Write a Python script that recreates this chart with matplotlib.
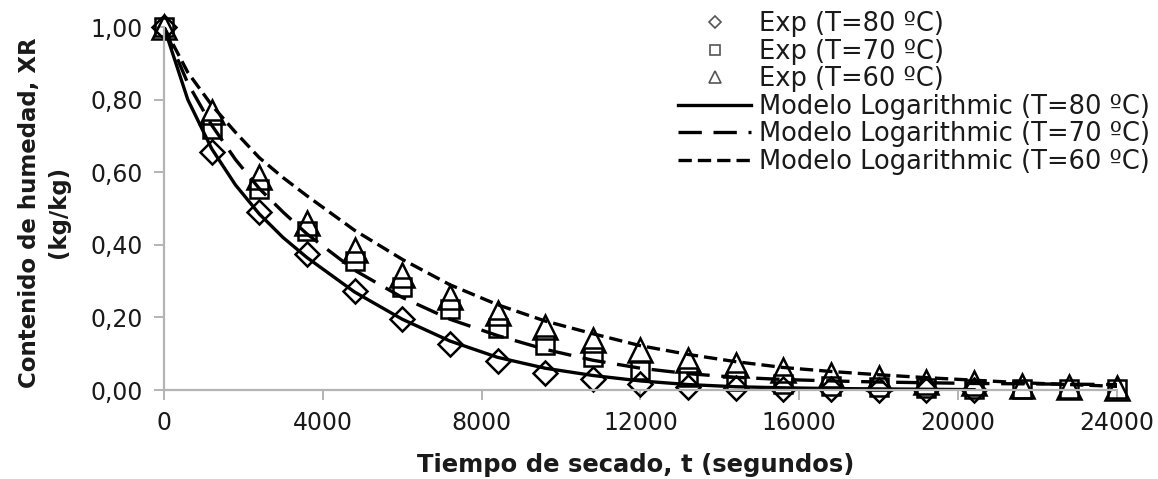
import matplotlib
matplotlib.use('Agg')

import matplotlib.pyplot as plt
from matplotlib.ticker import FuncFormatter

plt.rcParams['font.family'] = ['DejaVu Sans']

# tiempo de las medidas experimentales (s)
t_exp = [0, 1200, 2400, 3600, 4800, 6000, 7200, 8400, 9600, 10800, 12000,
         13200, 14400, 15600, 16800, 18000, 19200, 20400, 21600, 22800, 24000]

# razon de humedad experimental
xr_80 = [1.00, 0.655, 0.49, 0.375, 0.272, 0.195, 0.128, 0.08, 0.047, 0.03,
         0.016, 0.009, 0.005, 0.003, 0.002, 0.001, 0.001, 0.0]
xr_70 = [1.00, 0.72, 0.555, 0.437, 0.355, 0.284, 0.222, 0.172, 0.124, 0.091,
         0.055, 0.036, 0.025, 0.017, 0.012, 0.008, 0.005, 0.004, 0.003, 0.002, 0.002]
xr_60 = [1.00, 0.765, 0.587, 0.46, 0.386, 0.317, 0.256, 0.212, 0.174, 0.138,
         0.11, 0.083, 0.069, 0.055, 0.041, 0.033, 0.022, 0.02, 0.01, 0.008, 0.005]

# curvas del modelo Logarithmic
t_mod = [0, 600, 1200, 1800, 2400, 3000, 3600, 4800, 6000, 7200, 8400, 9600,
         10800, 12000, 13200, 14400, 15600, 16800, 18000, 19200, 20400,
         21600, 22800, 24000]
mod_80 = [1.00, 0.80, 0.665, 0.565, 0.485, 0.42, 0.365, 0.27, 0.195, 0.135,
          0.09, 0.06, 0.04, 0.025, 0.015, 0.009, 0.006, 0.004, 0.003, 0.002, 0.001]
mod_70 = [1.00, 0.845, 0.73, 0.635, 0.555, 0.49, 0.43, 0.33, 0.255, 0.195,
          0.15, 0.112, 0.082, 0.06, 0.045, 0.035, 0.029, 0.025, 0.022, 0.02,
          0.018, 0.017, 0.016, 0.015]
mod_60 = [1.00, 0.875, 0.785, 0.71, 0.64, 0.585, 0.535, 0.44, 0.36, 0.29,
          0.235, 0.19, 0.155, 0.122, 0.098, 0.078, 0.062, 0.051, 0.042, 0.034,
          0.027, 0.02, 0.015, 0.01]

x_ticks = [0, 4000, 8000, 12000, 16000, 20000, 24000]
y_ticks = [0.0, 0.2, 0.4, 0.6, 0.8, 1.0]

fig = plt.figure(figsize=(11.58, 4.79), dpi=100)
ax = fig.add_axes([0.1416, 0.1858, 0.823, 0.7578])

mk = dict(linestyle='none', fillstyle='none', color='black', markeredgewidth=1.8, clip_on=False)
ax.plot(t_exp[:len(xr_80)], xr_80, marker='D', markersize=12, label='Exp (T=80 ºC)', **mk)
ax.plot(t_exp, xr_70, marker='s', markersize=13, label='Exp (T=70 ºC)', **mk)
ax.plot(t_exp, xr_60, marker='^', markersize=17, label='Exp (T=60 ºC)', **mk)

ax.plot(t_mod[:len(mod_80)], mod_80, color='black', linewidth=2.4,
        label='Modelo Logarithmic (T=80 ºC)')
ax.plot(t_mod, mod_70, color='black', linewidth=2.4, dashes=(7, 3.5),
        label='Modelo Logarithmic (T=70 ºC)')
ax.plot(t_mod, mod_60, color='black', linewidth=2.4, dashes=(4, 1.8),
        label='Modelo Logarithmic (T=60 ºC)')

ax.set_xlim(0, 24000)
ax.set_ylim(0, 1.0)
ax.set_xticks(x_ticks)
ax.set_yticks(y_ticks)
ax.yaxis.set_major_formatter(FuncFormatter(lambda v, p: f'{v:.2f}'.replace('.', ',')))

for s in ['top', 'right']:
    ax.spines[s].set_visible(False)
for s in ['left', 'bottom']:
    ax.spines[s].set_color('#b4b4b4')
    ax.spines[s].set_linewidth(1.6)
ax.tick_params(axis='both', direction='out', length=7, width=1.4, color='#b4b4b4',
               labelsize=17, labelcolor='#1a1a1a', pad=8)

fig.text(0.038, 0.557, 'Contenido de humedad, XR\n(kg/kg)', rotation=90,
         ha='center', va='center', multialignment='center', fontsize=16.5,
         fontweight='bold', color='#1a1a1a', linespacing=1.3)
fig.text(0.549, 0.029, 'Tiempo de secado, t (segundos)', ha='center', va='center',
         fontsize=17.5, fontweight='bold', color='#1a1a1a')

leg = fig.legend(loc='upper right', bbox_to_anchor=(1150 / 1158, 1 - 11 / 479),
                 frameon=False, fontsize=18.5, markerscale=0.55, handlelength=2.85,
                 handletextpad=0.3, labelspacing=0.06, borderpad=0, borderaxespad=0)
for h in leg.legend_handles[:3]:
    h.set_markeredgewidth(1.2)
    h.set_markeredgecolor('#555555')
for txt in leg.get_texts():
    txt.set_color('#1a1a1a')

fig.savefig('out.png', dpi=100)
plt.close(fig)
